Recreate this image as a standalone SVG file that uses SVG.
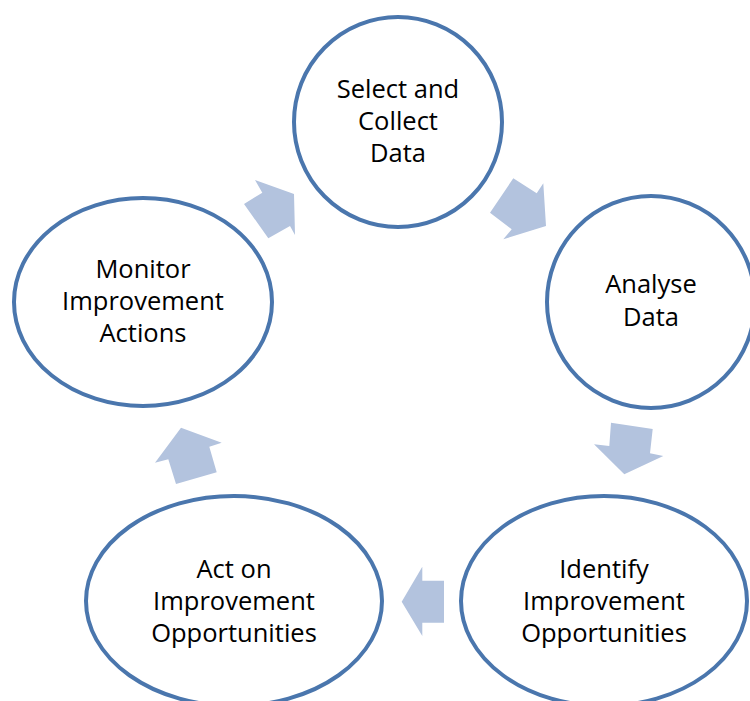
<svg xmlns="http://www.w3.org/2000/svg" width="750" height="701" viewBox="0 0 750 701">
<style>
.node ellipse{fill:#ffffff;stroke:#4A76AD;stroke-width:4}
.node text{font-family:"Open Sans","Noto Sans","Liberation Sans",sans-serif;font-size:25.5px;fill:#000;text-anchor:middle}
.arrow{fill:#B3C3DE;stroke:none}
</style>
<rect width="750" height="701" fill="#ffffff"/>
<g id="node-select" class="node">
<ellipse cx="398" cy="122" rx="104" ry="105"/>
<text x="398" y="98">Select and</text>
<text x="398" y="130">Collect</text>
<text x="398" y="162">Data</text>
</g>
<g id="node-analyse" class="node">
<ellipse cx="651" cy="302" rx="104" ry="106"/>
<text x="651" y="293">Analyse</text>
<text x="651" y="326">Data</text>
</g>
<g id="node-identify" class="node">
<ellipse cx="604" cy="601" rx="143" ry="105"/>
<text x="604" y="578">Identify</text>
<text x="604" y="610">Improvement</text>
<text x="604" y="642">Opportunities</text>
</g>
<g id="node-act" class="node">
<ellipse cx="234" cy="601" rx="148" ry="105"/>
<text x="234" y="578">Act on</text>
<text x="234" y="610">Improvement</text>
<text x="234" y="642">Opportunities</text>
</g>
<g id="node-monitor" class="node">
<ellipse cx="143" cy="302" rx="129" ry="104"/>
<text x="143" y="278">Monitor</text>
<text x="143" y="310">Improvement</text>
<text x="143" y="342">Actions</text>
</g>
<g id="connectors">
<polygon class="arrow" points="255,180 294,194 295,235 290,226 268.3,238.3 244,204 262.3,192.7"/>
<polygon class="arrow" points="513.3,178.3 536.7,193.3 543.3,183.3 546,226 503.3,239.3 511.7,229.3 490,212.7"/>
<polygon class="arrow" points="611,422.7 652.7,429 650,453.3 663.3,456 624.3,474.3 594,444.3 609.3,446"/>
<polygon class="arrow" points="401.7,601.7 422.3,566.7 422.3,580.7 444,580.7 444,622.7 422.3,622.7 422.3,636"/>
<polygon class="arrow" points="181,427.7 221.7,442.7 209.3,446.7 216.7,472.3 176,484 168.3,459.3 155,462.7"/>
</g>
</svg>
